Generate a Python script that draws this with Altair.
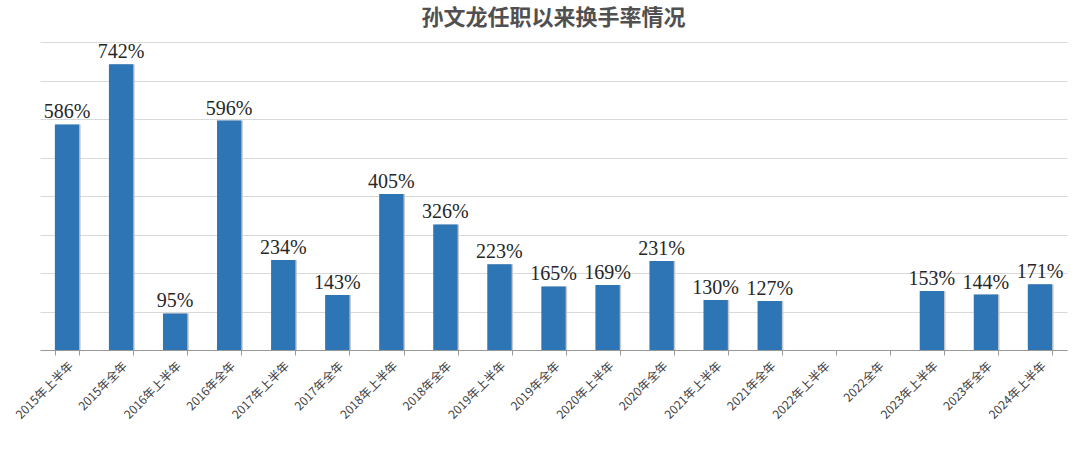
import altair as alt
import pandas as pd

categories = ["2015年上半年", "2015年全年", "2016年上半年", "2016年全年", "2017年上半年",
              "2017年全年", "2018年上半年", "2018年全年", "2019年上半年", "2019年全年",
              "2020年上半年", "2020年全年", "2021年上半年", "2021年全年", "2022年上半年",
              "2022全年", "2023年上半年", "2023年全年", "2024年上半年"]
values = [586, 742, 95, 596, 234, 143, 405, 326, 223, 165, 169, 231, 130, 127,
          None, None, 153, 144, 171]
labels = [f"{v}%" if v is not None else "" for v in values]

df = pd.DataFrame({"cat": categories, "val": values, "label": labels})

x = alt.X("cat:N", sort=categories, title=None,
          scale=alt.Scale(paddingInner=0.55, paddingOuter=0.275),
          axis=alt.Axis(labelAngle=-45, labelFont="Noto Sans CJK SC", labelFontSize=12,
                        labelColor="#404040", domainColor="#999999", tickColor="#999999",
                        tickSize=5, tickBand="extent", labelPadding=5, grid=False))
y = alt.Y("val:Q", title=None, scale=alt.Scale(domain=[0, 800], nice=False),
          axis=alt.Axis(values=list(range(100, 900, 100)), labels=False, ticks=False,
                        domain=False, grid=True, gridColor="#d9d9d9", gridWidth=1))

base = alt.Chart(df)

shadow = base.mark_bar(color="#c8c8c8", xOffset=1.5).encode(x=x, y=y)
bars = base.mark_bar(color="#2E75B6").encode(x=x, y=y)
text = base.mark_text(font="Liberation Serif", fontSize=20, color="#262626",
                      baseline="alphabetic", dy=-6).encode(x=x, y=y, text="label:N")

chart = alt.layer(shadow, bars, text).properties(
    width=1027, height=308,
    autosize=alt.AutoSizeParams(type="none"),
    padding={"left": 40, "top": 42, "right": 13, "bottom": 102},
    title=alt.TitleParams("孙文龙任职以来换手率情况", font="Noto Sans CJK SC", fontSize=22,
                          fontWeight="bold", color="#505050", anchor="middle", offset=12),
).configure_view(stroke=None)

chart.save("out.html", embed_options={"renderer": "svg", "actions": False})
